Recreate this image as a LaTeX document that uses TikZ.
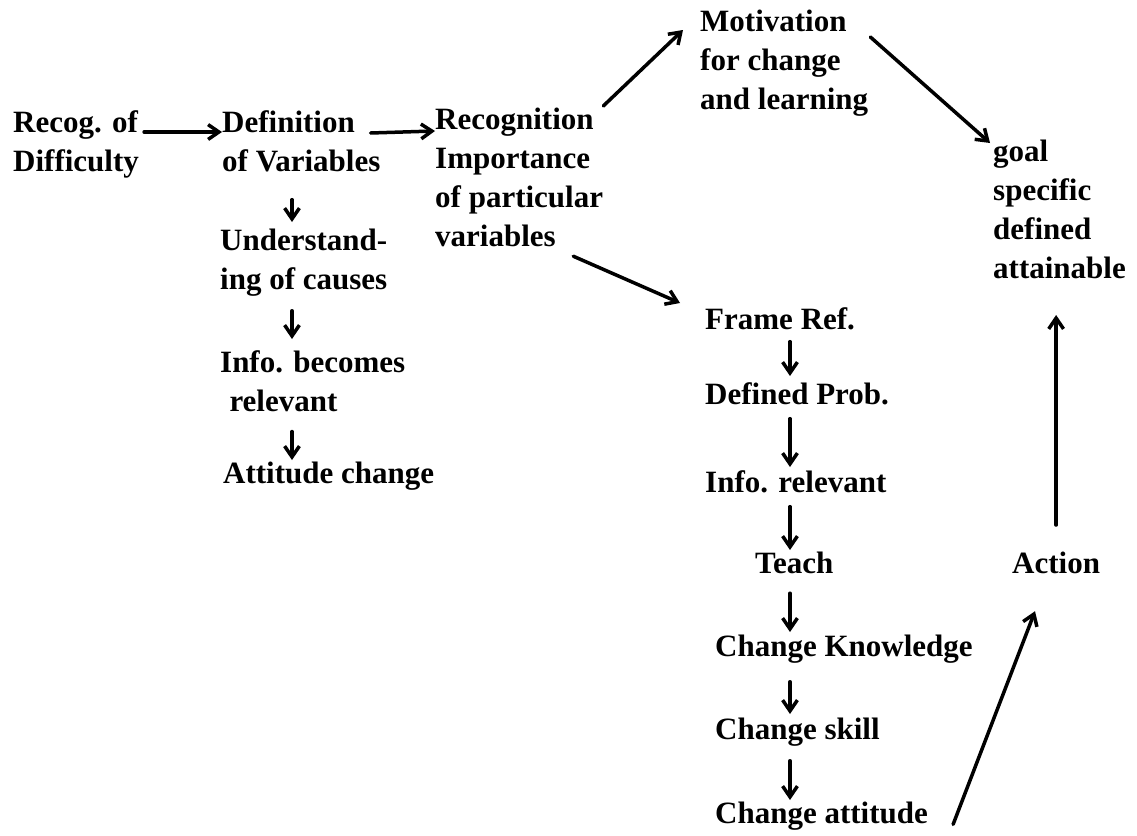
\documentclass[tikz,border=0pt]{standalone}
\usepackage{fontspec}
\setmainfont{Liberation Serif}
\usetikzlibrary{arrows.meta,positioning}
\tikzset{
  every picture/.append style={line cap=round,line join=round},
  chart text/.style={inner sep=0pt,anchor=north west,align=left,font=\fontsize{31}{39}\selectfont\bfseries},
  chart arrow/.style={line width=3.5pt,-{Straight Barb[length=3.8mm,width=5.2mm]}},
  chart step/.style 2 args={chart arrow,shorten <=#1,shorten >=#2}
}
\begin{document}
\begin{tikzpicture}[x=1pt,y=-1pt]
  \useasboundingbox (0,0) rectangle (1137,835);
  % first row
  \node[chart text] (recog) at (13,110) {Recog. of\\Difficulty};
  \node[chart text] (defn) at (222,110) {Definition\\of Variables};
  \node[chart text] (recogn) at (435,108) {Recognition\\Importance\\of particular\\variables};
  \node[chart text] (motiv) at (700,10) {Motivation\\for change\\and learning};
  \node[chart text] (goal) at (993,140) {goal\\specific\\defined\\attainable};
  % left column
  \node[chart text] (underst) at (220,229) {Understand-\\ing of causes};
  \node[chart text] (infobec) at (220,350) {Info. becomes\\\hspace{0.3em}relevant};
  \node[chart text] (attitude) at (223,462) {Attitude change};
  % right column
  \node[chart text] (frame) at (705,307) {Frame Ref.};
  \node[chart text] (defprob) at (705,382) {Defined Prob.};
  \node[chart text] (inforel) at (705,470) {Info. relevant};
  \node[chart text] (teach) at (755,552) {Teach};
  \node[chart text] (chknow) at (715,635) {Change Knowledge};
  \node[chart text] (chskill) at (715,718) {Change skill};
  \node[chart text] (chatt) at (715,802) {Change attitude};
  \node[chart text] (action) at (1012,552) {Action};
  \coordinate (colL) at (292,0);
  \coordinate (colR) at (790,0);

  % across
  \draw[chart arrow,shorten <=5pt] ([yshift=-22]recog.north east) -- ([yshift=-22]defn.north west);
  \draw[chart arrow] ([xshift=-10,yshift=-23]defn.north east) -- ([yshift=-23]recogn.north west);
  \draw[chart arrow] ([yshift=2]recogn.north east) -- ([xshift=-17,yshift=-20]motiv.north west);
  \draw[chart arrow] ([xshift=2,yshift=-27]motiv.north east) -- ([xshift=-3,yshift=-3]goal.north west);
  \draw[chart arrow] ([xshift=-30,yshift=-9]recogn.south east) -- ([xshift=-25,yshift=4]frame.north west);
  \draw[chart arrow] ([yshift=27]action.north) -- ([yshift=-175]action.north |- goal.north);
  \draw[chart arrow] ([xshift=25,yshift=-8]chatt.east) -- ([xshift=23,yshift=-37]action.south west);

  % down the columns
  \draw[chart step={28pt}{7pt}] (defn.south -| colL) -- (underst.north -| colL);
  \draw[chart step={14pt}{11pt}] (underst.south -| colL) -- (infobec.north -| colL);
  \draw[chart step={20pt}{2pt}] (infobec.south -| colL) -- (attitude.north -| colL);
  \draw[chart step={12pt}{6pt}] (frame.south -| colR) -- (defprob.north -| colR);
  \draw[chart step={14pt}{3pt}] (defprob.south -| colR) -- (inforel.north -| colR);
  \draw[chart step={14pt}{2pt}] (inforel.south -| colR) -- (teach.north -| colR);
  \draw[chart step={19pt}{3pt}] (teach.south -| colR) -- (chknow.north -| colR);
  \draw[chart step={18pt}{4pt}] (chknow.south -| colR) -- (chskill.north -| colR);
  \draw[chart step={14pt}{2pt}] (chskill.south -| colR) -- (chatt.north -| colR);
\end{tikzpicture}
\end{document}
